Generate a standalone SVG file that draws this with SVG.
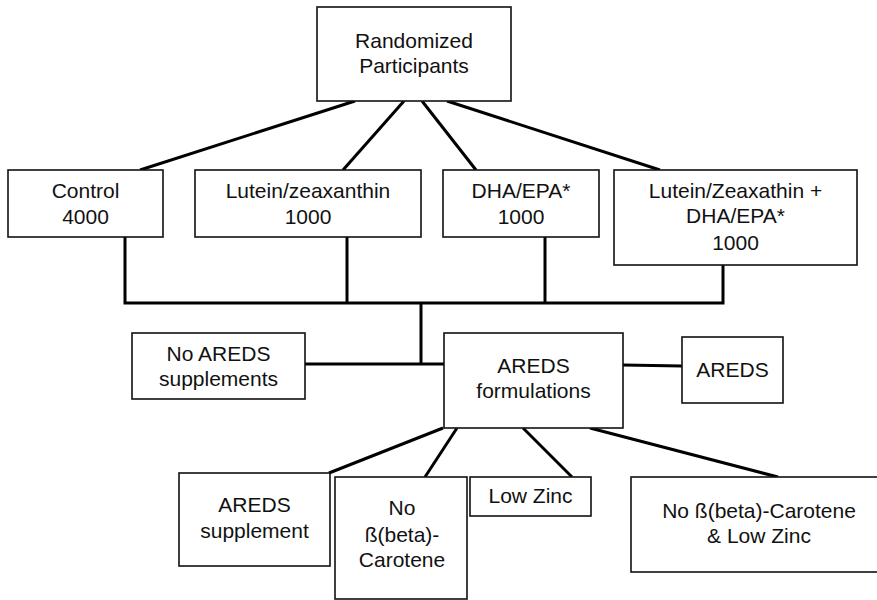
<svg xmlns="http://www.w3.org/2000/svg" width="877" height="600" viewBox="0 0 877 600">
<style>
.box{fill:#fff;stroke:#111;stroke-width:1.6}
.t{font-family:"Liberation Sans",Arial,sans-serif;font-size:21px;fill:#111;text-anchor:middle}
.c{fill:none;stroke:#000;stroke-width:3;stroke-linecap:butt;stroke-linejoin:miter}
</style>
<rect width="877" height="600" fill="#fff"/>
<g id="connectors">
<line class="c" x1="355" y1="101" x2="140" y2="170"/>
<line class="c" x1="404" y1="101" x2="343" y2="170"/>
<line class="c" x1="422" y1="101" x2="476" y2="170"/>
<line class="c" x1="447" y1="101" x2="660" y2="170"/>
<polyline class="c" points="125,237 125,303 723,303 723,265"/>
<line class="c" x1="347" y1="237" x2="347" y2="303"/>
<line class="c" x1="545" y1="237" x2="545" y2="303"/>
<line class="c" x1="421" y1="303" x2="421" y2="364"/>
<line class="c" x1="305" y1="364" x2="444" y2="364"/>
<line class="c" x1="623" y1="365" x2="682" y2="366"/>
<line class="c" x1="443" y1="428" x2="329" y2="473"/>
<line class="c" x1="457" y1="428" x2="425" y2="477"/>
<line class="c" x1="523" y1="428" x2="572" y2="477"/>
<line class="c" x1="590" y1="428" x2="778" y2="477"/>
</g>
<g id="randomized">
<rect class="box" x="317" y="7" width="194" height="94"/>
<text class="t" x="414" y="48">Randomized</text>
<text class="t" x="414" y="73">Participants</text>
</g>
<g id="control">
<rect class="box" x="8" y="170" width="155" height="67"/>
<text class="t" x="85.5" y="198">Control</text>
<text class="t" x="85.5" y="224">4000</text>
</g>
<g id="lutein">
<rect class="box" x="195" y="170" width="226" height="67"/>
<text class="t" x="308" y="198">Lutein/zeaxanthin</text>
<text class="t" x="308" y="224">1000</text>
</g>
<g id="dha">
<rect class="box" x="443" y="170" width="156" height="67"/>
<text class="t" x="521" y="198">DHA/EPA*</text>
<text class="t" x="521" y="224">1000</text>
</g>
<g id="lutein-dha">
<rect class="box" x="614" y="170" width="243" height="95"/>
<text class="t" x="735.5" y="198">Lutein/Zeaxathin +</text>
<text class="t" x="735.5" y="223">DHA/EPA*</text>
<text class="t" x="735.5" y="250">1000</text>
</g>
<g id="no-areds">
<rect class="box" x="132" y="333" width="173" height="66"/>
<text class="t" x="218.5" y="361">No AREDS</text>
<text class="t" x="218.5" y="386">supplements</text>
</g>
<g id="areds-formulations">
<rect class="box" x="444" y="333" width="179" height="95"/>
<text class="t" x="533.5" y="373">AREDS</text>
<text class="t" x="533.5" y="398">formulations</text>
</g>
<g id="areds">
<rect class="box" x="682" y="337" width="101" height="66"/>
<text class="t" x="732.5" y="377">AREDS</text>
</g>
<g id="areds-supplement">
<rect class="box" x="179" y="473" width="151" height="93"/>
<text class="t" x="254.5" y="512">AREDS</text>
<text class="t" x="254.5" y="538">supplement</text>
</g>
<g id="no-beta">
<rect class="box" x="335" y="477" width="132" height="122"/>
<text class="t" x="402" y="515">No</text>
<text class="t" x="402" y="542">ß(beta)-</text>
<text class="t" x="402" y="567">Carotene</text>
</g>
<g id="low-zinc">
<rect class="box" x="470" y="477" width="121" height="39"/>
<text class="t" x="530.5" y="503">Low Zinc</text>
</g>
<g id="no-beta-low-zinc">
<rect class="box" x="631" y="477" width="250" height="95"/>
<text class="t" x="759" y="518">No ß(beta)-Carotene</text>
<text class="t" x="759" y="543">&amp; Low Zinc</text>
</g>
</svg>
